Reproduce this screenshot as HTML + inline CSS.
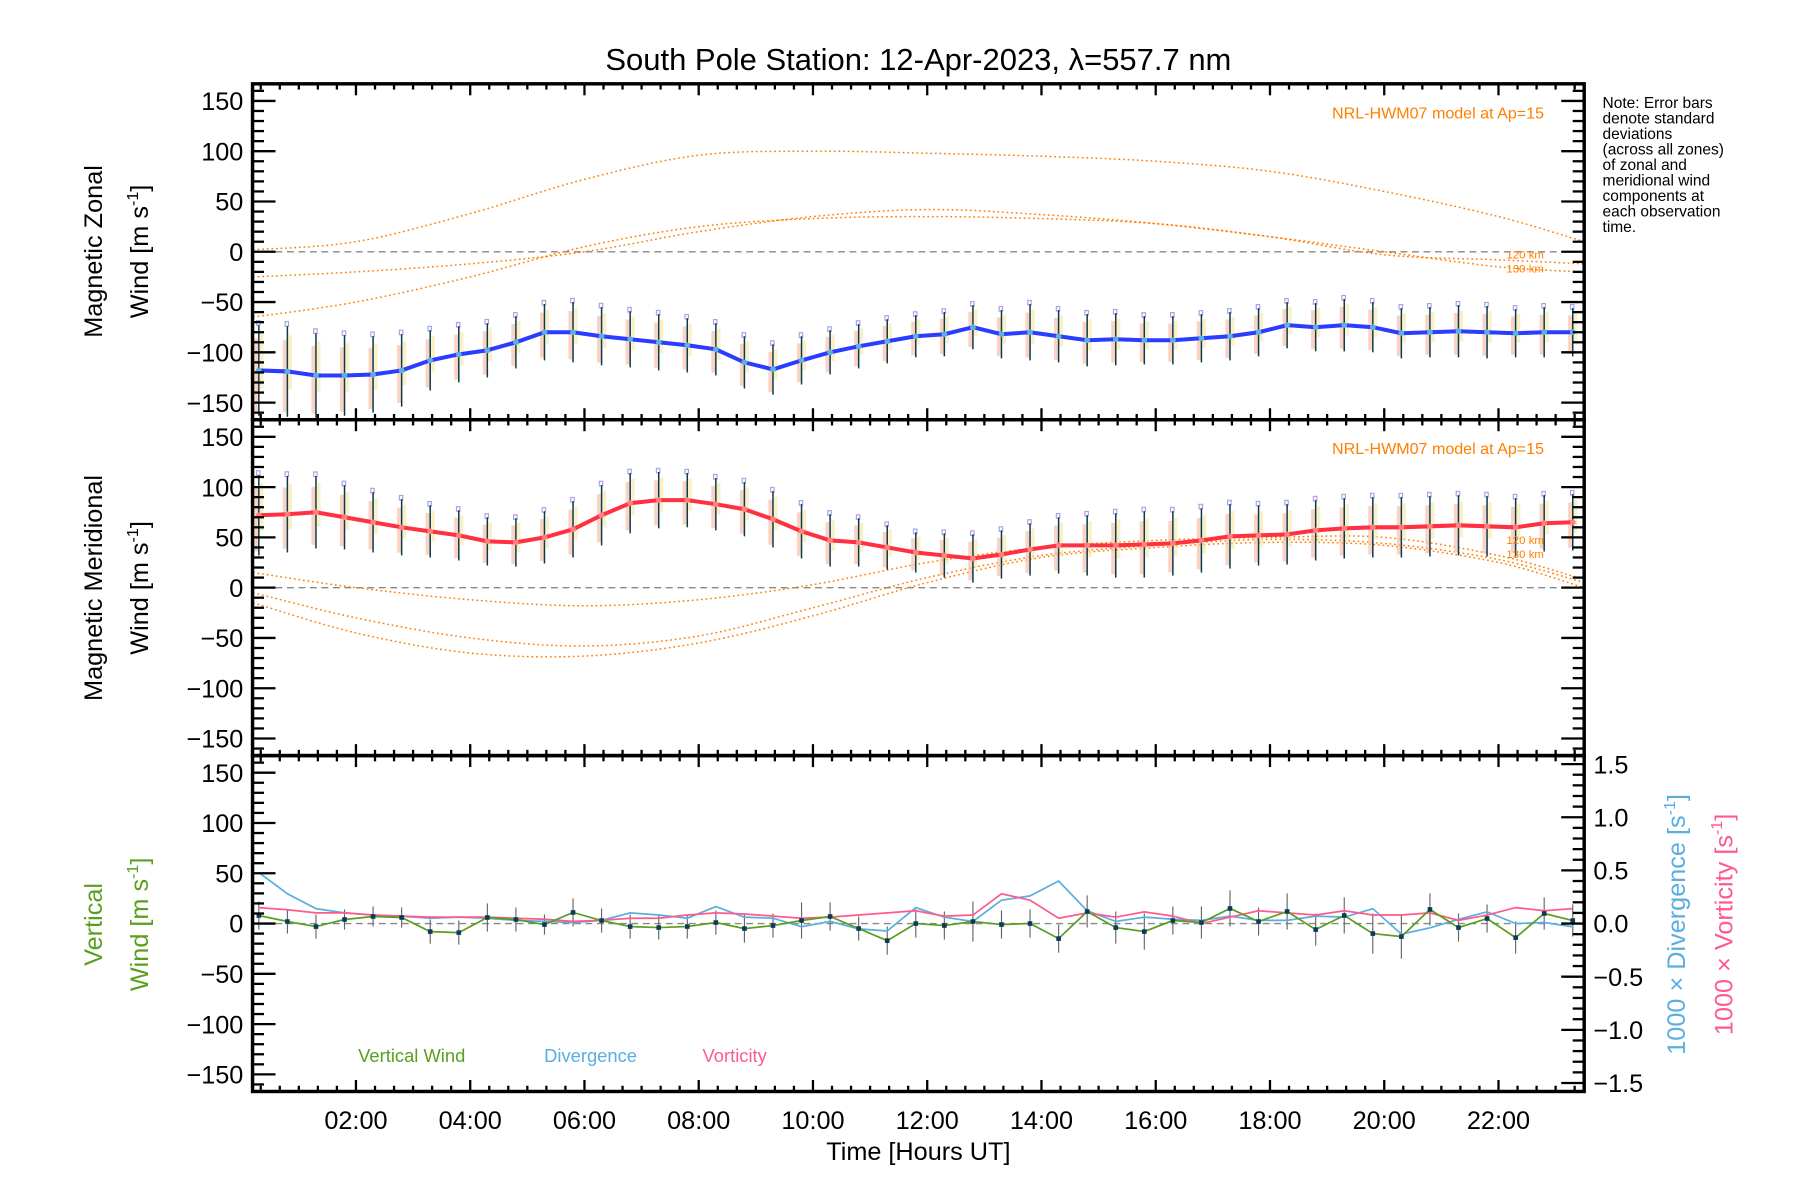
<!DOCTYPE html>
<html><head><meta charset="utf-8"><style>
html,body{margin:0;padding:0;background:#fff;}
svg{display:block;font-family:"Liberation Sans",sans-serif;}
</style></head><body>
<svg id="chart" width="1800" height="1200" viewBox="0 0 1568 1045" preserveAspectRatio="none" xmlns="http://www.w3.org/2000/svg">
<rect width="1568" height="1045" fill="#fff"/>
<text x="800" y="61" font-size="27" text-anchor="middle">South Pole Station: 12-Apr-2023, λ=557.7 nm</text>
<g id="g"></g>
<g font-size="13.5" fill="#000">
<text x="1396" y="94">Note: Error bars</text><text x="1396" y="107.5">denote standard</text><text x="1396" y="121">deviations</text><text x="1396" y="134.5">(across all zones)</text><text x="1396" y="148">of zonal and</text><text x="1396" y="161.5">meridional wind</text><text x="1396" y="175">components at</text><text x="1396" y="188.5">each observation</text><text x="1396" y="202">time.</text>
</g>
</svg>
<script>
// ---- data ----
const times = [];
for (let i = 0; i < 47; i++) times.push(0.3 + i * 0.5);
const zonal = [-118,-119,-123,-123,-122,-118,-108,-102,-98,-90,-80,-80,-84,-87,-90,-93,-97,-110,-117,-108,-100,-94,-89,-84,-82,-75,-82,-80,-84,-88,-87,-88,-88,-86,-84,-80,-73,-75,-73,-75,-81,-80,-79,-80,-81,-80,-80];
const zonalSd = [45,45,42,40,38,36,30,28,27,26,28,30,29,28,28,27,26,26,25,24,22,22,22,21,22,22,24,28,26,26,26,24,24,24,24,24,23,24,26,25,25,25,26,26,24,25,24];
const merid = [72,73,75,70,65,60,56,52,46,45,50,58,72,84,87,87,83,78,68,56,47,45,40,35,32,29,33,38,42,42,42,43,44,47,51,52,53,57,59,60,60,61,62,61,60,64,65];
const meridSd = [40,38,36,32,30,28,26,25,24,24,26,28,30,30,28,27,26,27,28,27,26,24,22,20,22,24,24,26,28,30,32,33,32,32,32,30,30,30,30,30,30,30,30,30,29,28,28];
const vert = [8,2,-3,4,7,6,-8,-9,6,4,-1,11,3,-3,-4,-3,1,-5,-2,3,7,-5,-17,0,-2,2,-1,0,-15,12,-4,-8,3,1,15,2,12,-6,8,-10,-13,14,-4,5,-14,10,3];
const vertSd = [14,12,12,10,10,10,12,12,14,12,10,14,12,12,12,12,12,14,12,18,14,12,14,14,14,20,14,14,14,16,16,18,14,16,18,14,18,16,18,20,22,16,14,14,16,16,16];
const divg = [0.48,0.28,0.14,0.1,0.08,0.07,0.05,0.06,0.05,0.03,0.02,0.01,0.03,0.1,0.08,0.05,0.16,0.06,0.05,-0.03,0.02,-0.05,-0.07,0.15,0.06,0.02,0.22,0.26,0.4,0.12,0.02,0.06,0.04,0.03,0.07,0.03,0.03,0.07,0.06,0.14,-0.1,-0.04,0.04,0.11,0.0,0.01,-0.03];
const vort = [0.15,0.13,0.1,0.1,0.08,0.07,0.06,0.06,0.06,0.05,0.04,0.02,0.03,0.05,0.05,0.08,0.1,0.09,0.07,0.05,0.06,0.08,0.1,0.12,0.07,0.08,0.28,0.22,0.05,0.1,0.06,0.11,0.07,0.0,0.06,0.12,0.1,0.08,0.12,0.08,0.08,0.1,0.03,0.08,0.15,0.12,0.14];
const modelTimes = [0.2,2,4,6,8,10,12,14,16,18,20,22,23.5];
const zonA = [2,10,38,72,96,100,98,95,90,80,60,35,10];
const zonB = [-25,-20,-12,0,20,35,42,37,28,15,0,-15,-20];
const zonC = [-65,-50,-25,5,25,33,35,33,28,15,-3,-8,-12];
const merA = [15,0,-12,-18,-12,3,25,40,47,50,50,32,8];
const merB = [-5,-30,-50,-58,-48,-20,10,32,42,48,44,28,5];
const merC = [-15,-45,-65,-68,-55,-28,5,30,40,45,42,25,0];
const xTicks = [2,4,6,8,10,12,14,16,18,20,22];
const yTicks = [150,100,50,0,-50,-100,-150];
const rTicks = [1.5,1.0,0.5,0.0,-0.5,-1.0,-1.5];

// ---- layout ----
const L=220,R=1380,T0=73,PH=292.5,YR=167,TMIN=0.19,TMAX=23.5;
const NS="http://www.w3.org/2000/svg";
const g=document.getElementById('g');
function el(tag,attrs,parent){const e=document.createElementNS(NS,tag);for(const k in attrs)e.setAttribute(k,attrs[k]);(parent||g).appendChild(e);return e;}
const xs=t=>L+(t-TMIN)/(TMAX-TMIN)*(R-L);
const ys=(p,v)=>{const top=T0+p*PH;return top+PH/2-v/YR*(PH/2);};
function yRight(v){return ys(2,v*105.7);}
function smooth(pts){let d='M'+pts[0][0]+','+pts[0][1];for(let i=0;i<pts.length-1;i++){const p0=pts[i-1]||pts[i],p1=pts[i],p2=pts[i+1],p3=pts[i+2]||p2;d+=' C'+(p1[0]+(p2[0]-p0[0])/6)+','+(p1[1]+(p2[1]-p0[1])/6)+' '+(p2[0]-(p3[0]-p1[0])/6)+','+(p2[1]-(p3[1]-p1[1])/6)+' '+p2[0]+','+p2[1];}return d;}
function clipRect(p){const id='clip'+p;const c=el('clipPath',{id:id});el('rect',{x:L,y:T0+p*PH,width:R-L,height:PH},c);return 'url(#'+id+')';}

for(let p=0;p<3;p++){
  const top=T0+p*PH,bot=top+PH;
  const cp=clipRect(p);
  const pg=el('g',{'clip-path':cp});
  
  
  const z=el('line',{x1:L,x2:R,y1:ys(p,0),y2:ys(p,0),stroke:'#888','stroke-dasharray':'6,4','stroke-width':1.2},pg);
  
  
  if(p<2){
    const vals=p===0?zonal:merid, sds=p===0?zonalSd:meridSd;
    const models=p===0?[zonA,zonB,zonC]:[merA,merB,merC];
    models.forEach((m,k)=>{
      const path=el('path',{d:smooth(modelTimes.map((t,i)=>[xs(t),ys(p,m[i])])),fill:'none',stroke:'#ff7f00','stroke-width':1.3,'stroke-dasharray':'1.5,2.5'},pg);
      
      
    });
    vals.forEach((v,i)=>{
      const x=xs(times[i]);
      const b1=el('rect',{x:x-4,y:ys(p,v+sds[i]*0.7),width:4,height:sds[i]*1.6*PH/(2*YR),fill:'#f8c0a8',opacity:0.7},pg);
      
      
      const b2=el('rect',{x:x+1,y:ys(p,v+sds[i]*0.8),width:3,height:sds[i]*1.2*PH/(2*YR),fill:'#f6e6a0',opacity:0.6},pg);
      
      
      const q=el('rect',{x:x-2,y:ys(p,v+sds[i]*1.05)-2,width:3,height:4,fill:'none',stroke:'#a8a0e0','stroke-width':1},pg);
      
      
      const e=el('line',{x1:x,x2:x,y1:ys(p,v+sds[i]),y2:ys(p,v-sds[i]),stroke:'#0b3a4a','stroke-width':1.3},pg);
      
      
    });
    const line=el('polyline',{points:vals.map((v,i)=>xs(times[i])+','+ys(p,v)).join(' '),fill:'none',stroke:p===0?'#2a3cff':'#ff3040','stroke-width':3.5},pg);
    
    
    vals.forEach((v,i)=>{
      const c=el('circle',{cx:xs(times[i]),cy:ys(p,v),r:2.5,fill:p===0?'#5ab0e0':'#ff8080'},pg);
      
      
    });
    const t=el('text',{x:1345,y:top+30,'font-size':14,fill:'#ff7f00','text-anchor':'end'});
    t.textContent='NRL-HWM07 model at Ap=15';
    
    
    const l1=el('text',{x:1345,y:ys(p,p===0?-2:48)+4,'font-size':10,fill:'#ff7f00','text-anchor':'end'});l1.textContent='120 km';
    
    
    const l2=el('text',{x:1345,y:ys(p,p===0?-16:34)+4,'font-size':10,fill:'#ff7f00','text-anchor':'end'});l2.textContent='130 km';
    
    
  } else {
    vert.forEach((v,i)=>{
      const x=xs(times[i]);
      const e=el('line',{x1:x,x2:x,y1:ys(p,v+vertSd[i]),y2:ys(p,v-vertSd[i]),stroke:'#666','stroke-width':1},pg);
      
      
    });
    const dl=el('polyline',{points:divg.map((v,i)=>xs(times[i])+','+yRight(v)).join(' '),fill:'none',stroke:'#5aaee0','stroke-width':1.5},pg);
    
    
    const vl=el('polyline',{points:vort.map((v,i)=>xs(times[i])+','+yRight(v)).join(' '),fill:'none',stroke:'#ff5a8c','stroke-width':1.5},pg);
    
    
    const gl=el('polyline',{points:vert.map((v,i)=>xs(times[i])+','+ys(p,v)).join(' '),fill:'none',stroke:'#5a9e20','stroke-width':1.5},pg);
    
    
    vert.forEach((v,i)=>{
      const c=el('rect',{x:xs(times[i])-2,y:ys(p,v)-2,width:4,height:4,fill:'#0b3a5a'},pg);
      
      
    });
    [['Vertical Wind',312,'#5a9e20'],['Divergence',474,'#5aaee0'],['Vorticity',612,'#ff5a8c']].forEach(a=>{
      const t=el('text',{x:a[1],y:925,'font-size':16,fill:a[2]});t.textContent=a[0];
      
      
    });
  }
  const f=el('rect',{x:L,y:top,width:R-L,height:PH,fill:'none',stroke:'#000','stroke-width':3});
  
  
  for(let v=-160;v<=160;v+=10){
    const y=ys(p,v);if(y<top+1||y>bot-1)continue;
    const len=v%50===0?20:10;
    el('line',{x1:L,x2:L+len,y1:y,y2:y,stroke:'#000','stroke-width':2});
    if(p<2)el('line',{x1:R,x2:R-len,y1:y,y2:y,stroke:'#000','stroke-width':2});
  }
  yTicks.forEach(v=>{
    const t=el('text',{x:212,y:ys(p,v)+8,'font-size':22,'text-anchor':'end'});
    t.textContent=(v<0?'\u2212':'')+Math.abs(v);
    
    
  });
  for(let t=0;t<=24;t+=1/3){
    const x=xs(t);if(x<L+2||x>R-2)continue;
    const maj=Math.abs(t/2-Math.round(t/2))<0.01;
    const len=maj?10:5;
    el('line',{x1:x,x2:x,y1:top,y2:top+len,stroke:'#000','stroke-width':2});
    el('line',{x1:x,x2:x,y1:bot,y2:bot-len,stroke:'#000','stroke-width':2});
  }
}
for(let v=-1.5;v<=1.501;v+=0.1){
  const y=yRight(v);const maj=Math.abs(v*2-Math.round(v*2))<0.01;
  el('line',{x1:R,x2:R-(maj?20:10),y1:y,y2:y,stroke:'#000','stroke-width':2});
}
rTicks.forEach(v=>{
  const t=el('text',{x:1388,y:yRight(v)+8,'font-size':22});
  t.textContent=(v<0?'\u2212':'')+Math.abs(v).toFixed(1);
  
  
});
xTicks.forEach(h=>{
  const t=el('text',{x:xs(h),y:983,'font-size':22,'text-anchor':'middle'});
  t.textContent=(h<10?'0':'')+h+':00';
  
  
});
const xt=el('text',{x:800,y:1010,'font-size':22,'text-anchor':'middle'});xt.textContent='Time [Hours UT]';


function vtext(str,x,y,col,name,sup){
  const t=el('text',{x:0,y:0,'font-size':22,fill:col,'text-anchor':'middle',transform:'translate('+x+','+y+') rotate(-90)'});
  t.textContent=str;
  if(sup){const s=el('tspan',{dy:-9,'font-size':14},t);s.textContent='-1';const s2=el('tspan',{dy:9},t);s2.textContent=']';}
  
  
}
vtext('Magnetic Zonal',89,219,'#000','y-axis-title-zonal');
vtext('Wind [m s',129,219,'#000','y-axis-title-zonal-units',true);
vtext('Magnetic Meridional',89,512,'#000','y-axis-title-meridional');
vtext('Wind [m s',129,512,'#000','y-axis-title-meridional-units',true);
vtext('Vertical',89,805,'#5a9e20','y-axis-title-vertical');
vtext('Wind [m s',129,805,'#5a9e20','y-axis-title-vertical-units',true);
vtext('1000 × Divergence [s',1468,805,'#5aaee0','right-axis-title-divergence',true);
vtext('1000 × Vorticity [s',1509,805,'#ff5a8c','right-axis-title-vorticity',true);
</script>
</body></html>
